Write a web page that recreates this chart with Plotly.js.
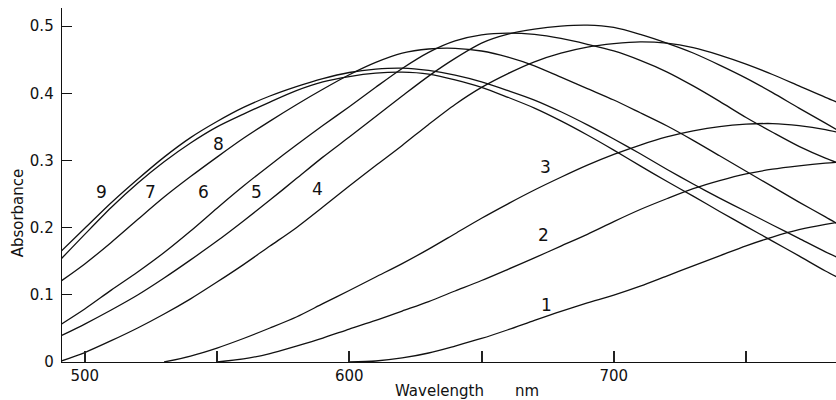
<!DOCTYPE html>
<html><head><meta charset="utf-8">
<script src="https://cdn.plot.ly/plotly-3.0.1.min.js"></script>
<style>html,body{margin:0;padding:0;background:#fff}</style>
</head><body><div id="chart" style="width:836px;height:400px"></div>
<script>
const wavelength = [490,500,510,520,530,540,550,560,570,580,590,600,610,620,630,640,650,660,670,680,690,700,710,720,730,740,750,760,770,780,790];

const curve1 = [null,null,null,null,null,null,null,null,null,null,null,0,0.0015,0.006,0.0134,0.0238,0.035,0.048,0.062,0.0755,0.088,0.0997,0.113,0.128,0.143,0.158,0.173,0.186,0.197,0.205,0.211];
const curve2 = [null,null,null,null,null,null,0,0.0045,0.0126,0.0238,0.0357,0.049,0.0618,0.0759,0.090,0.1057,0.1213,0.138,0.155,0.1726,0.190,0.209,0.2270,0.243,0.258,0.270,0.280,0.287,0.292,0.296,0.299];
const curve3 = [null,null,null,null,0,0.0089,0.0208,0.035,0.0506,0.067,0.0868,0.1064,0.1265,0.1465,0.168,0.191,0.214,0.2355,0.256,0.275,0.293,0.309,0.323,0.335,0.344,0.3505,0.354,0.355,0.352,0.346,0.337];
const curve4 = [0,0.0141,0.0317,0.0506,0.0714,0.094,0.119,0.145,0.1726,0.200,0.2307,0.262,0.2924,0.3224,0.3537,0.3834,0.4088,0.4294,0.4469,0.4598,0.4688,0.474,0.4767,0.4747,0.468,0.457,0.4435,0.428,0.411,0.394,0.378];
const curve5 = [0.037,0.0565,0.0774,0.0997,0.125,0.152,0.180,0.210,0.241,0.273,0.305,0.335,0.3656,0.396,0.4256,0.452,0.4747,0.488,0.4955,0.500,0.5015,0.498,0.4876,0.4747,0.460,0.442,0.4226,0.401,0.378,0.3557,0.333];
const curve6 = [0.0536,0.079,0.107,0.134,0.163,0.195,0.229,0.262,0.293,0.323,0.352,0.380,0.409,0.437,0.461,0.478,0.487,0.4896,0.4876,0.4817,0.473,0.463,0.449,0.432,0.411,0.388,0.364,0.342,0.321,0.3036,0.289];
const curve7 = [0.1176,0.146,0.178,0.212,0.2455,0.276,0.305,0.333,0.3586,0.383,0.406,0.4276,0.446,0.4598,0.466,0.467,0.463,0.454,0.441,0.424,0.407,0.390,0.371,0.3517,0.330,0.307,0.284,0.261,0.238,0.216,0.193];
const curve8 = [0.149,0.190,0.230,0.266,0.298,0.326,0.350,0.369,0.387,0.404,0.417,0.425,0.430,0.4315,0.4286,0.420,0.409,0.394,0.378,0.359,0.338,0.3155,0.292,0.269,0.247,0.224,0.202,0.180,0.158,0.1355,0.115];
const curve9 = [0.161,0.199,0.237,0.272,0.305,0.334,0.358,0.379,0.396,0.410,0.422,0.431,0.436,0.4375,0.434,0.427,0.417,0.404,0.390,0.3725,0.353,0.332,0.310,0.287,0.265,0.244,0.224,0.204,0.184,0.164,0.146];

const curveNames = ['1','2','3','4','5','6','7','8','9'];
const labelX = [674.5, 673.5, 674, 588, 565, 545, 525, 550.5, 506.5];
const labelY = [0.085, 0.189, 0.290, 0.257, 0.253, 0.253, 0.253, 0.325, 0.253];

const xTickVals = [500,550,600,650,700,750];
const xTickText = ['500','','600','','700',''];
const yTickVals = [0,0.1,0.2,0.3,0.4,0.5];
const yTickText = ['0','0.1','0.2','0.3','0.4','0.5'];

const xTitle = 'Wavelength';
const xUnit = 'nm';
const yTitle = 'Absorbance';

const allCurves = [curve1,curve2,curve3,curve4,curve5,curve6,curve7,curve8,curve9];
const FONT = 'DejaVu Sans, sans-serif';

const traces = allCurves.map((c,i)=>({
  x: wavelength, y: c, type:'scatter', mode:'lines', name: curveNames[i],
  line:{color:'#111', width:1.3, shape:'spline', smoothing:0.8},
  connectgaps:false, hoverinfo:'skip'
}));

const annotations = curveNames.map((t,i)=>({
  x: labelX[i], y: labelY[i], xref:'x', yref:'y', text:t, showarrow:false,
  xanchor:'center', yanchor:'middle',
  font:{family:FONT, size:17, color:'#111'}
}));
annotations.push({x:-0.0568, y:0.42, xref:'paper', yref:'paper', text:yTitle, textangle:-90,
  xanchor:'center', yanchor:'middle', showarrow:false, font:{family:FONT, size:15, color:'#111'}});
annotations.push({x:0.4877, y:-0.082, xref:'paper', yref:'paper', text:xTitle,
  xanchor:'center', yanchor:'middle', showarrow:false, font:{family:FONT, size:15, color:'#111'}});
annotations.push({x:0.6008, y:-0.082, xref:'paper', yref:'paper', text:xUnit,
  xanchor:'center', yanchor:'middle', showarrow:false, font:{family:FONT, size:15, color:'#111'}});

const layout = {
  width:836, height:400,
  margin:{l:62, r:0, t:8, b:38, pad:0},
  paper_bgcolor:'#fff', plot_bgcolor:'#fff',
  showlegend:false,
  font:{family:FONT, color:'#111'},
  xaxis:{range:[491.4,784.0], tickmode:'array', tickvals:xTickVals, ticktext:xTickText, ticks:'inside', ticklen:11,
    tickwidth:2, tickcolor:'#222', showline:true, linecolor:'#111', linewidth:1.3, layer:'above traces',
    showgrid:false, zeroline:false, tickfont:{family:FONT, size:15, color:'#111'}},
  yaxis:{range:[0,0.527], tickmode:'array', tickvals:yTickVals, ticktext:yTickText, ticks:'inside', ticklen:10,
    tickwidth:1.2, tickcolor:'#111', showline:true, linecolor:'#111', linewidth:1.3, layer:'above traces',
    showgrid:false, zeroline:false, tickfont:{family:FONT, size:15, color:'#111'}, ticklabelstandoff:4},
  annotations: annotations
};

Plotly.newPlot('chart', traces, layout, {staticPlot:true, displayModeBar:false});
</script>
</body></html>
